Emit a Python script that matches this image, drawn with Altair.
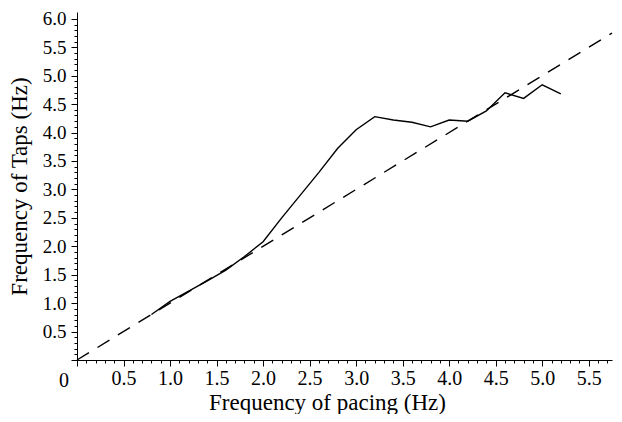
import altair as alt
import pandas as pd

# Measured data (solid line)
pacing = [0.8, 1.0, 1.2, 1.4, 1.6, 1.8, 2.0, 2.2, 2.4, 2.6, 2.8, 3.0, 3.2,
          3.4, 3.6, 3.8, 4.0, 4.2, 4.4, 4.6, 4.8, 5.0, 5.2]
taps = [0.80, 1.03, 1.21, 1.39, 1.58, 1.82, 2.08, 2.50, 2.90, 3.30, 3.72,
        4.05, 4.28, 4.22, 4.18, 4.10, 4.22, 4.20, 4.38, 4.70, 4.60, 4.84, 4.68]

# Identity reference line (dashed)
ident_x = [0.0, 5.75]
ident_y = [0.0, 5.75]

x_ticks = [round(i * 0.1, 1) for i in range(0, 58)]
y_ticks = [round(i * 0.1, 1) for i in range(0, 61)]

FONT = "Liberation Serif"
major = "abs(datum.value*2 - round(datum.value*2)) < 0.01"

df = pd.DataFrame({"x": pacing, "y": taps})
ref = pd.DataFrame({"x": ident_x, "y": ident_y})
origin = pd.DataFrame({"x": [0.0], "y": [0.0], "t": ["0"]})

xscale = alt.Scale(domain=[0, 5.75], nice=False, zero=False)
yscale = alt.Scale(domain=[0, 6.12], nice=False, zero=False)

xaxis = alt.Axis(
    title="Frequency of pacing (Hz)",
    values=x_ticks,
    labelExpr=f"({major}) && datum.value > 0.01 ? format(datum.value, '.1f') : ''",
    tickSize={"condition": {"test": major, "value": 6}, "value": 3},
    tickColor="black", domainColor="black", grid=False,
    labelFont=FONT, labelFontSize=20, labelColor="black", labelPadding=2,
    labelOverlap=False, labelFlush=False,
    titleFont=FONT, titleFontSize=23, titleFontWeight="normal", titleColor="black",
    titleX=250, titleY=49, titleBaseline="alphabetic", titleAnchor="middle",
)
yaxis = alt.Axis(
    title="Frequency of Taps (Hz)",
    values=y_ticks,
    labelExpr=f"({major}) && datum.value > 0.01 ? format(datum.value, '.1f') : ''",
    tickSize={"condition": {"test": major, "value": 6}, "value": 3},
    tickColor="black", domainColor="black", grid=False,
    labelFont=FONT, labelFontSize=19, labelColor="black", labelPadding=5,
    labelOverlap=False, labelFlush=False,
    titleFont=FONT, titleFontSize=23, titleFontWeight="normal", titleColor="black",
    titlePadding=11,
)

enc_x = alt.X("x:Q", scale=xscale, axis=xaxis)
enc_y = alt.Y("y:Q", scale=yscale, axis=yaxis)

solid = alt.Chart(df).mark_line(color="black", strokeWidth=1.4).encode(x=enc_x, y=enc_y)
dashed = alt.Chart(ref).mark_line(color="black", strokeWidth=1.4, strokeDash=[14, 10]).encode(
    x=enc_x, y=enc_y
)
zero_label = alt.Chart(origin).mark_text(
    font=FONT, fontSize=20, color="black", dx=-13, dy=21, baseline="middle"
).encode(x=enc_x, y=enc_y, text="t:N")

chart = alt.layer(dashed, solid, zero_label).properties(
    width=535, height=348,
    autosize=alt.AutoSizeParams(type="none"),
    padding={"left": 69, "top": 4, "right": 2, "bottom": 54},
).configure_view(stroke=None)

chart.save("out.html", embed_options={"renderer": "svg", "actions": False})
